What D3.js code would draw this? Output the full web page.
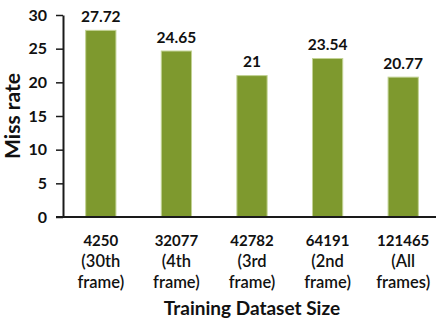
<!DOCTYPE html>
<html>
<head>
<meta charset="utf-8">
<script src="https://cdn.jsdelivr.net/npm/d3@7"></script>
<style>
  html, body { margin: 0; padding: 0; background: #fff; }
  svg { display: block; font-family: Lato, "Open Sans", sans-serif; }
</style>
</head>
<body>
<svg id="chart" width="436" height="320"></svg>
<script>
// Training set sizes (first label line) and the frames they came from
const sizes = ["4250", "32077", "42782", "64191", "121465"];
const frames = [["(30th", "frame)"], ["(4th", "frame)"], ["(3rd", "frame)"], ["(2nd", "frame)"], ["(All", "frames)"]];
const missRate = [27.72, 24.65, 21, 23.54, 20.77];
const valueLabels = ["27.72", "24.65", "21", "23.54", "20.77"];
const yTicks = [0, 5, 10, 15, 20, 25, 30];

const svg = d3.select("#chart");
const plotLeft = 63, plotRight = 441, plotTop = 15, plotBottom = 217;

const x = d3.scaleBand().domain(sizes).range([plotLeft, plotRight]).paddingInner(0.6).paddingOuter(0.3);
const y = d3.scaleLinear().domain([0, 30]).range([plotBottom, plotTop]);

// bars
svg.append("g").selectAll("rect")
  .data(missRate)
  .join("rect")
  .attr("x", (d, i) => x(sizes[i]))
  .attr("y", d => y(d))
  .attr("width", x.bandwidth())
  .attr("height", d => y(0) - y(d))
  .attr("fill", "#7e992e")
  .attr("stroke", "#c2d294")
  .attr("stroke-width", 1);

// value labels above bars
svg.append("g").selectAll("text")
  .data(missRate)
  .join("text")
  .attr("x", (d, i) => x(sizes[i]) + x.bandwidth() / 2)
  .attr("y", d => y(d) - 8.5)
  .attr("text-anchor", "middle")
  .attr("font-size", 15.5)
  .attr("font-weight", 700)
  .attr("fill", "#111")
  .text((d, i) => valueLabels[i]);

// y axis
const yAxis = svg.append("g")
  .attr("transform", `translate(${plotLeft},0)`)
  .call(d3.axisLeft(y).tickValues(yTicks).tickSize(7).tickPadding(9).tickSizeOuter(0));
yAxis.select(".domain").attr("stroke", "#1a1a1a").attr("stroke-width", 2);
yAxis.selectAll(".tick line").attr("stroke", "#1a1a1a").attr("stroke-width", 1.5);
yAxis.selectAll(".tick text")
  .attr("font-family", "Lato, sans-serif")
  .attr("font-size", 16)
  .attr("font-weight", 700)
  .attr("fill", "#111");

// x axis baseline
svg.append("line")
  .attr("x1", plotLeft - 7).attr("x2", 436)
  .attr("y1", y(0)).attr("y2", y(0))
  .attr("stroke", "#1a1a1a")
  .attr("stroke-width", 2);

// category labels (three lines)
const cat = svg.append("g").selectAll("text")
  .data(sizes)
  .join("text")
  .attr("text-anchor", "middle")
  .attr("fill", "#111");
cat.append("tspan")
  .attr("x", d => x(d) + x.bandwidth() / 2)
  .attr("y", 246)
  .attr("font-size", 15)
  .attr("font-weight", 700)
  .text(d => d);
cat.append("tspan")
  .attr("x", d => x(d) + x.bandwidth() / 2)
  .attr("y", 267)
  .attr("font-size", 16.5)
  .attr("font-weight", 600)
  .text((d, i) => frames[i][0]);
cat.append("tspan")
  .attr("x", d => x(d) + x.bandwidth() / 2)
  .attr("y", 288)
  .attr("font-size", 16.5)
  .attr("font-weight", 600)
  .text((d, i) => frames[i][1]);

// axis titles
svg.append("text")
  .attr("x", (plotLeft + plotRight) / 2)
  .attr("y", 315)
  .attr("text-anchor", "middle")
  .attr("font-size", 19)
  .attr("font-weight", 700)
  .attr("fill", "#111")
  .text("Training Dataset Size");

svg.append("text")
  .attr("transform", `translate(20,${(plotTop + plotBottom) / 2}) rotate(-90)`)
  .attr("text-anchor", "middle")
  .attr("font-size", 21)
  .attr("font-weight", 700)
  .attr("fill", "#111")
  .text("Miss rate");
</script>
</body>
</html>
